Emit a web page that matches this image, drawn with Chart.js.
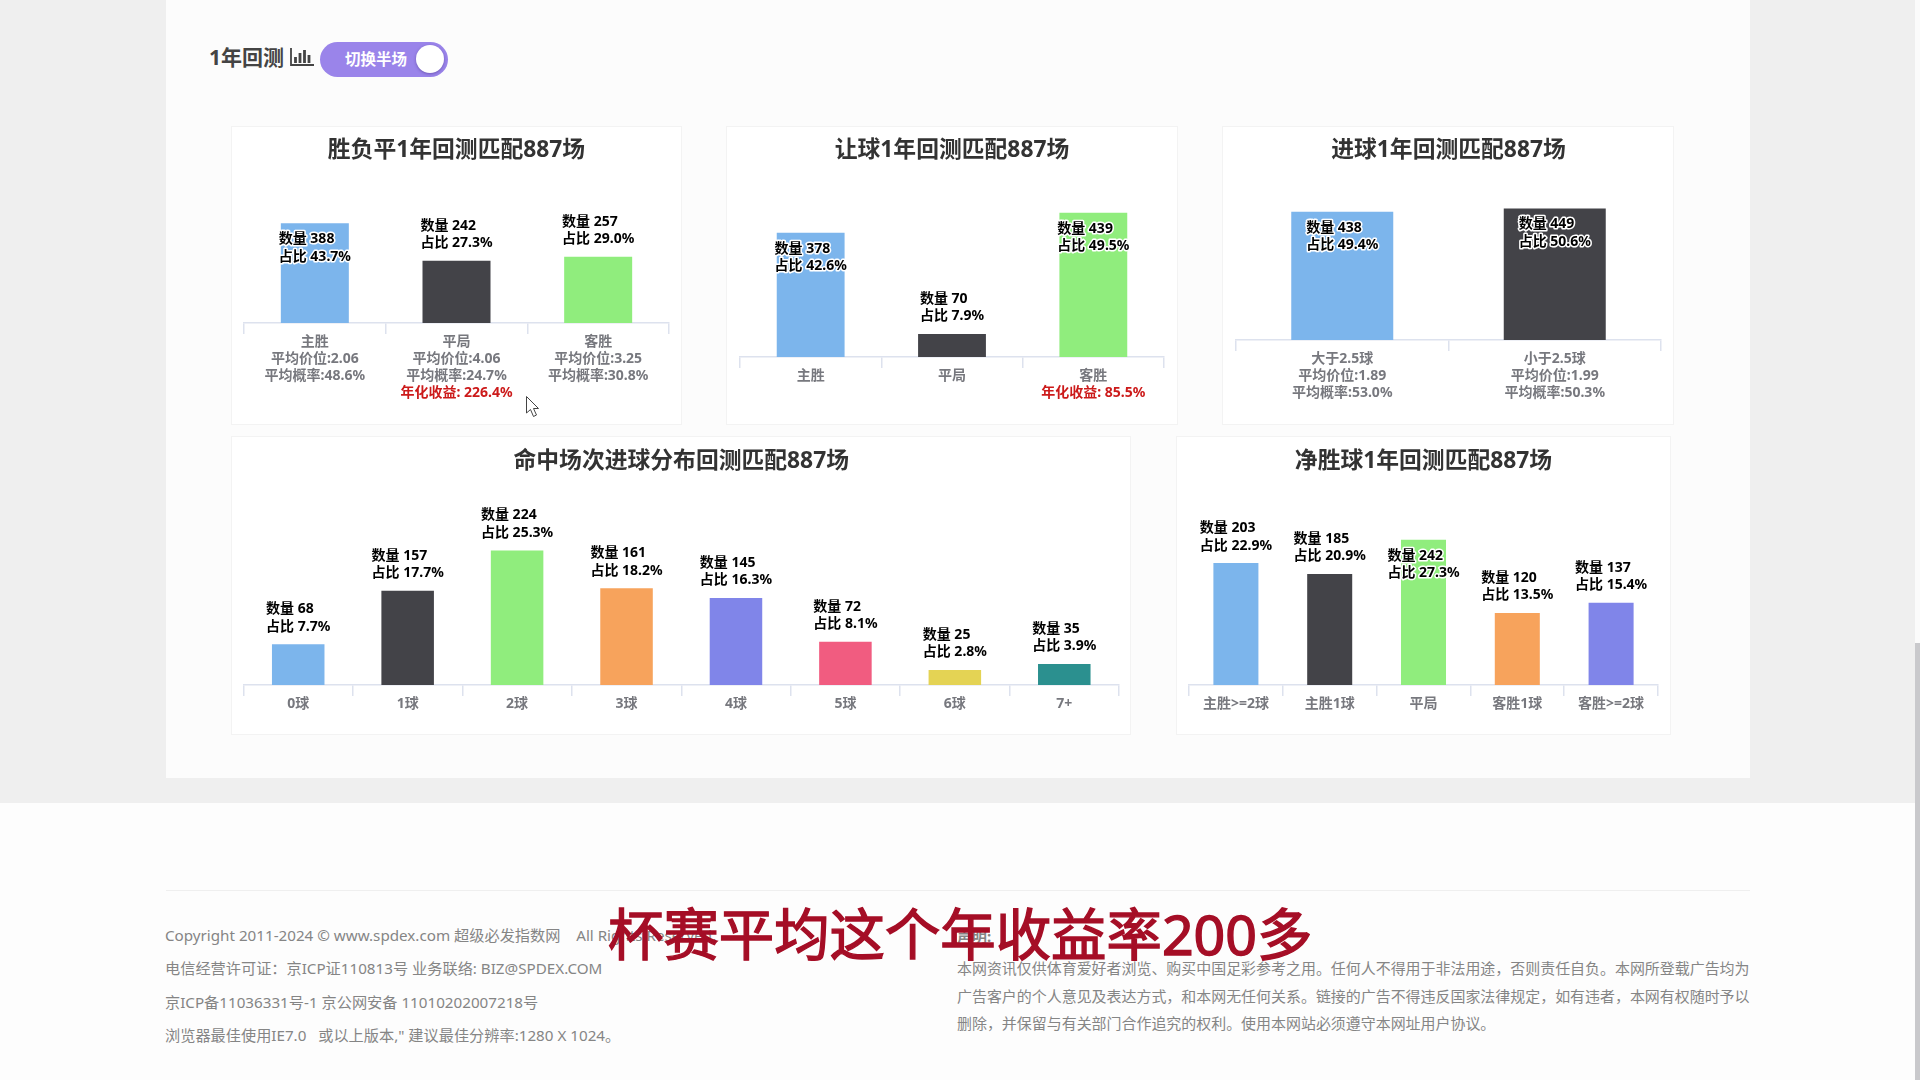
<!DOCTYPE html>
<html lang="zh">
<head>
<meta charset="utf-8">
<title>1年回测</title>
<script src="https://cdn.jsdelivr.net/npm/chart.js@4"></script>
<style>
html,body{margin:0;padding:0;width:1920px;height:1080px;overflow:hidden;background:#efefef;font-family:"Noto Sans","Noto Sans CJK SC",sans-serif;}
.abs{position:absolute;white-space:nowrap;}
#panel{position:absolute;left:166px;top:0;width:1584px;height:778px;background:#fcfcfc;}
#footer{position:absolute;left:0;top:803px;width:1920px;height:277px;background:#fdfdfd;}
#rule{position:absolute;left:166px;top:890px;width:1584px;height:1px;background:#efefef;}
.card{position:absolute;background:#fff;box-shadow:inset 0 0 0 1px #f3f3f3;}
.card canvas{display:block;}
.foot{font-size:14.960px;color:#858585;line-height:20px;}
.left{font-size:15.200px;}
#heading{left:209px;top:42px;font-size:21px;font-weight:700;color:#444;line-height:30px;}
#toggle{position:absolute;left:320px;top:42px;width:128px;height:35px;border-radius:18px;background:#9a84ea;}
#toggleText{left:345px;top:48px;font-size:15.500px;font-weight:700;color:#fff;line-height:23px;}
#knob{position:absolute;left:416px;top:45px;width:28px;height:28px;border-radius:50%;background:#fff;box-shadow:0 1px 3px rgba(60,40,120,.45);}
#subtitle{left:608px;top:895px;font-size:55.400px;font-weight:400;color:#a50e26;line-height:78px;-webkit-text-stroke:1.400px #a50e26;}
#scroll{position:absolute;left:1915px;top:0;width:5px;height:1080px;background:#fbfbfb;}
#thumb{position:absolute;left:1915px;top:643px;width:5px;height:437px;background:#c9c9cc;}
</style>
</head>
<body>
<div id="panel"></div>
<div id="footer"></div>
<div id="rule"></div>
<div id="scroll"></div><div id="thumb"></div>

<div class="abs" id="heading">1年回测</div>
<svg style="position:absolute;left:290px;top:48px" width="24" height="18" viewBox="0 0 24 18">
  <path d="M1 0V17H24" fill="none" stroke="#444" stroke-width="1.800"/>
  <path d="M5.500 9V15M10 5V15M14.500 2V15M19 7V15" fill="none" stroke="#444" stroke-width="2.800"/>
</svg>
<div id="toggle"></div>
<div class="abs" id="toggleText">切换半场</div>
<div id="knob"></div>

<div id="charts"></div>

<svg style="position:absolute;left:525px;top:395px" width="18" height="24" viewBox="0 0 18 24">
  <path d="M1.500 1.500V18L5.500 14.500L8.500 21.500L11.500 20L8.500 13.500H13.500Z" fill="#fff" stroke="#444" stroke-width="1"/>
</svg>

<div class="abs foot left" style="left:165px;top:925px">Copyright 2011-2024 © www.spdex.com 超级必发指数网 &nbsp;&nbsp; All Rights Reserved.</div>
<div class="abs foot left" style="left:165px;top:958px">电信经营许可证：京ICP证110813号 业务联络: BIZ@SPDEX.COM</div>
<div class="abs foot left" style="left:165px;top:992px">京ICP备11036331号-1 京公网安备 11010202007218号</div>
<div class="abs foot left" style="left:165px;top:1025px">浏览器最佳使用IE7.0 &nbsp; 或以上版本," 建议最佳分辨率:1280 X 1024。</div>
<div class="abs foot" style="left:957px;top:926px;font-weight:700">声明:</div>
<div class="abs foot" style="left:957px;top:958px">本网资讯仅供体育爱好者浏览、购买中国足彩参考之用。任何人不得用于非法用途，否则责任自负。本网所登载广告均为</div>
<div class="abs foot" style="left:957px;top:986px">广告客户的个人意见及表达方式，和本网无任何关系。链接的广告不得违反国家法律规定，如有违者，本网有权随时予以</div>
<div class="abs foot" style="left:957px;top:1013px">删除，并保留与有关部门合作追究的权利。使用本网站必须遵守本网址用户协议。</div>
<div class="abs" id="subtitle">杯赛平均这个年收益率200多</div>

<script>
// ---- data ----
const resultTitle = '胜负平1年回测匹配887场';
const resultTicks = [['主胜','平均价位:2.06','平均概率:48.6%'],['平局','平均价位:4.06','平均概率:24.7%'],['客胜','平均价位:3.25','平均概率:30.8%']];
const resultCounts = [388, 242, 257];
const resultShares = ['43.7', '27.3', '29.0'];
const resultReturns = [null, '226.4%', null];

const handicapTitle = '让球1年回测匹配887场';
const handicapTicks = [['主胜'],['平局'],['客胜']];
const handicapCounts = [378, 70, 439];
const handicapShares = ['42.6', '7.9', '49.5'];
const handicapReturns = [null, null, '85.5%'];

const goalsTitle = '进球1年回测匹配887场';
const goalsTicks = [['大于2.5球','平均价位:1.89','平均概率:53.0%'],['小于2.5球','平均价位:1.99','平均概率:50.3%']];
const goalsCounts = [438, 449];
const goalsShares = ['49.4', '50.6'];
const goalsReturns = [null, null];

const distTitle = '命中场次进球分布回测匹配887场';
const distTicks = [['0球'],['1球'],['2球'],['3球'],['4球'],['5球'],['6球'],['7+']];
const distCounts = [68, 157, 224, 161, 145, 72, 25, 35];
const distShares = ['7.7', '17.7', '25.3', '18.2', '16.3', '8.1', '2.8', '3.9'];
const distReturns = [null, null, null, null, null, null, null, null];

const marginTitle = '净胜球1年回测匹配887场';
const marginTicks = [['主胜>=2球'],['主胜1球'],['平局'],['客胜1球'],['客胜>=2球']];
const marginCounts = [203, 185, 242, 120, 137];
const marginShares = ['22.9', '20.9', '27.3', '13.5', '15.4'];
const marginReturns = [null, null, null, null, null];

const palette = ['#7cb5ec', '#434348', '#90ed7d', '#f7a35c', '#8085e9', '#f15c80', '#e4d354', '#2b908f'];

// ---- layout ----
const FONT = '"Noto Sans","Noto Sans CJK SC",sans-serif';
const AXIS_COLOR = '#dde2ee';
const TICK_LEN = 11, LINE_H = 17;

const panels = [
  {title:resultTitle,  ticks:resultTicks,  counts:resultCounts,  shares:resultShares,  returns:resultReturns,  x:231,  y:126, w:451, h:299, left:244,    right:669,  base:323, top:200, yMax:478, titleMid:24.500},
  {title:handicapTitle,ticks:handicapTicks,counts:handicapCounts,shares:handicapShares,returns:handicapReturns,x:726,  y:126, w:452, h:299, left:740,    right:1164, base:357, top:200, yMax:478, titleMid:24.500},
  {title:goalsTitle,   ticks:goalsTicks,   counts:goalsCounts,   shares:goalsShares,   returns:goalsReturns,   x:1222, y:126, w:452, h:299, left:1236,   right:1661, base:340, top:200, yMax:478, titleMid:24.500},
  {title:distTitle,    ticks:distTicks,    counts:distCounts,    shares:distShares,    returns:distReturns,    x:231,  y:436, w:900, h:299, left:243.500,right:1119, base:685, top:500, yMax:308, titleMid:25.500},
  {title:marginTitle,  ticks:marginTicks,  counts:marginCounts,  shares:marginShares,  returns:marginReturns,  x:1176, y:436, w:495, h:299, left:1189,   right:1658, base:685, top:500, yMax:308, titleMid:25.500},
];

// labels: black on a white halo, left-aligned block centred on the bar; moved inside the bar when it would not fit above
const barLabels = {
  id:'barLabels',
  afterDatasetsDraw(chart, args, opts){
    const ctx = chart.ctx, bars = chart.getDatasetMeta(0).data;
    ctx.save();
    ctx.font = 'bold 14px ' + FONT;
    ctx.textAlign = 'left';
    ctx.textBaseline = 'middle';
    ctx.lineJoin = 'round';
    bars.forEach((bar, i) => {
      const a = '数量 ' + opts.counts[i], b = '占比 ' + opts.shares[i] + '%';
      const w = Math.max(ctx.measureText(a).width, ctx.measureText(b).width);
      const x = bar.x - w / 2;
      let y1 = bar.y - 35;
      if (y1 - 8.500 < chart.chartArea.top) y1 = bar.y + 16;
      [[a, y1], [b, y1 + 17.500]].forEach(([t, y]) => {
        ctx.strokeStyle = '#fff'; ctx.lineWidth = 3;
        ctx.strokeText(t, x, y);
        ctx.fillStyle = '#000';
        ctx.fillText(t, x, y);
      });
    });
    ctx.restore();
  }
};

// the red annualised-return line under a tick label
const returnLines = {
  id:'returnLines',
  afterDraw(chart, args, opts){
    const ctx = chart.ctx, sx = chart.scales.x;
    ctx.save();
    ctx.font = 'bold 14px ' + FONT;
    ctx.fillStyle = '#cc1a1a';
    ctx.textAlign = 'center';
    ctx.textBaseline = 'middle';
    opts.returns.forEach((r, i) => {
      if (!r) return;
      const y = sx.top + TICK_LEN + LINE_H * (opts.ticks[i].length + .5);
      ctx.fillText('年化收益: ' + r, sx.getPixelForTick(i), y);
    });
    ctx.restore();
  }
};

const host = document.getElementById('charts');
panels.forEach(p => {
  const card = document.createElement('div');
  card.className = 'card';
  card.style.cssText = `left:${p.x}px;top:${p.y}px;width:${p.w}px;height:${p.h}px`;
  const cv = document.createElement('canvas');
  cv.width = p.w; cv.height = p.h;
  cv.style.cssText = `width:${p.w}px;height:${p.h}px`;
  card.appendChild(cv);
  host.appendChild(card);

  const titleLine = 28;
  const topPad = p.titleMid - titleLine / 2;
  const botPad = (p.top - p.y) - topPad - titleLine;

  new Chart(cv, {
    type:'bar',
    data:{
      labels:p.ticks,
      datasets:[{data:p.counts, backgroundColor:p.counts.map((_, i) => palette[i]),
                 categoryPercentage:1, barPercentage:.48, borderWidth:0}]
    },
    options:{
      responsive:false, maintainAspectRatio:false, animation:false, devicePixelRatio:1,
      layout:{padding:{left:p.left - p.x, right:p.x + p.w - p.right, top:0, bottom:0}},
      plugins:{
        legend:{display:false},
        tooltip:{enabled:false},
        title:{display:true, text:p.title, color:'#333', padding:{top:topPad, bottom:botPad},
               font:{family:FONT, size:22.800, weight:'bold', lineHeight:titleLine + 'px'}},
        barLabels:{counts:p.counts, shares:p.shares},
        returnLines:{returns:p.returns, ticks:p.ticks}
      },
      scales:{
        y:{display:false, min:0, max:p.yMax},
        x:{
          afterFit(s){ s.height = p.y + p.h - p.base; },
          border:{color:AXIS_COLOR, width:1.500},
          grid:{drawOnChartArea:false, drawTicks:true, tickLength:TICK_LEN, tickColor:AXIS_COLOR, lineWidth:1.500},
          ticks:{autoSkip:false, maxRotation:0, minRotation:0, padding:0, color:'#77787e',
                 font:{family:FONT, size:14, weight:'bold', lineHeight:LINE_H + 'px'}}
        }
      }
    },
    plugins:[barLabels, returnLines]
  });
});
</script>
</body>
</html>
